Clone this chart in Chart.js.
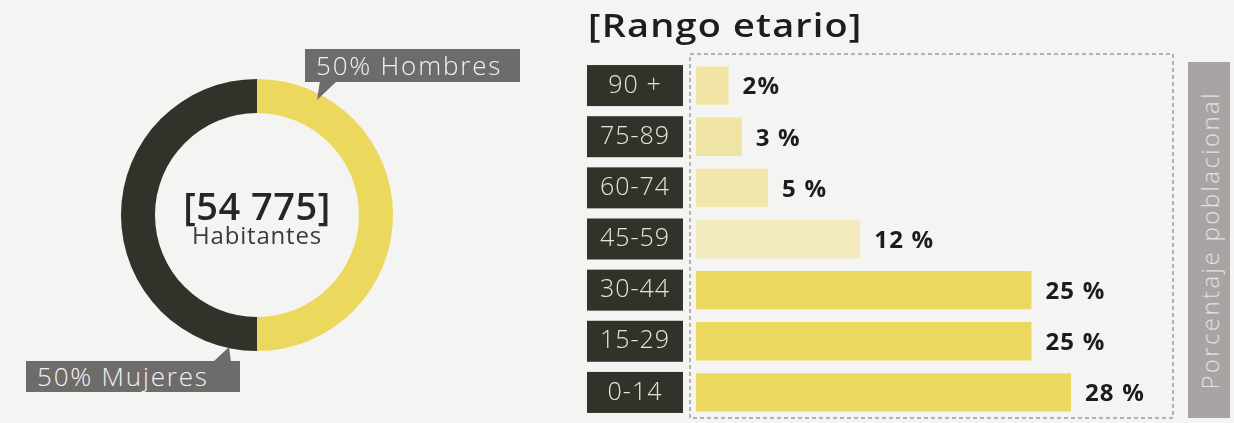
<!DOCTYPE html>
<html>
<head>
<meta charset="utf-8">
<script src="https://cdn.jsdelivr.net/npm/chart.js@4/dist/chart.umd.min.js"></script>
<style>
    body { margin: 0; width: 1234px; height: 423px; overflow: hidden; position: relative; background: #f4f4f3; font-family: "Open Sans", sans-serif; }
    .box { position: absolute; }
    #pieBox { left: 121px; top: 79px; width: 272px; height: 272px; }
    #barBox { left: 570px; top: 0; width: 664px; height: 423px; }
    .callout { position: absolute; background: #6e6b6b; color: #f2f2f2; font-size: 26px; font-weight: 300; letter-spacing: 1.8px; line-height: 33px; padding-left: 11px; box-sizing: border-box; white-space: nowrap; }
    .tip { position: absolute; background: #6e6b6b; }
    #title { position: absolute; left: 588px; top: 2px; font-size: 33px; font-weight: 600; letter-spacing: 1px; color: #1d1d1d; white-space: nowrap; transform: scaleX(1.15); transform-origin: left center; }
    #strip { position: absolute; left: 1188px; top: 62px; width: 42px; height: 356px; background: #a9a3a3; display: flex; align-items: center; justify-content: center; }
    #strip span { writing-mode: vertical-rl; transform: rotate(180deg); color: #e6e2e2; font-size: 24px; font-weight: 300; letter-spacing: 2.4px; white-space: nowrap; }
</style>
</head>
<body>
<div id="pieBox" class="box"><canvas id="pieChart"></canvas></div>
<div id="barBox" class="box"><canvas id="barChart"></canvas></div>

<div id="hombres" class="callout" style="left:305px;top:49px;width:215px;height:33px;"></div>
<div class="tip" style="left:316px;top:81px;width:22px;height:20px;clip-path:polygon(4px 0,21px 0,1px 19px);"></div>
<div id="mujeres" class="callout" style="left:26px;top:361px;width:214px;height:31px;line-height:31px;"></div>
<div class="tip" style="left:212px;top:347px;width:20px;height:15px;clip-path:polygon(1px 15px,19px 15px,17px 0);"></div>

<div id="title"></div>
<div id="strip"><span id="stripText"></span></div>

<script>
// Data
const sexLabels = ['50% Hombres', '50% Mujeres'];
const sexShares = [50, 50];
const totalPeople = '[54 775]';
const totalCaption = 'Habitantes';

const ageTitle = '[Rango etario]';
const axisTitle = 'Porcentaje poblacional';
const ageLabels = ['90 +', '75-89', '60-74', '45-59', '30-44', '15-29', '0-14'];
const ageShares = [2, 3, 5, 12, 25, 25, 28];
const shareText = ['2%', '3 %', '5 %', '12 %', '25 %', '25 %', '28 %'];

const dark = '#2f3329';
const yellow = '#ecd85c';
const barColors = ['#f0e4a4', '#f0e4a4', '#f1e6ab', '#f2e9bd', '#ecd85e', '#ecd85e', '#ecd85e'];

document.getElementById('hombres').textContent = sexLabels[0];
document.getElementById('mujeres').textContent = sexLabels[1];
document.getElementById('title').textContent = ageTitle;
document.getElementById('stripText').textContent = axisTitle;

const centerText = {
    id: 'centerText',
    afterDraw(chart) {
        const { left, right, top, bottom } = chart.chartArea;
        const cx = (left + right) / 2;
        const cy = (top + bottom) / 2;
        const ctx = chart.ctx;
        ctx.save();
        ctx.textAlign = 'center';
        ctx.textBaseline = 'middle';
        ctx.fillStyle = '#262626';
        ctx.font = '600 38px "Open Sans"';
        ctx.letterSpacing = '0.5px';
        ctx.fillText(totalPeople, cx, cy - 6);
        ctx.fillStyle = '#3a3a3a';
        ctx.font = '400 24px "Open Sans"';
        ctx.letterSpacing = '0.8px';
        ctx.fillText(totalCaption, cx, cy + 22);
        ctx.restore();
    }
};

new Chart(document.getElementById('pieChart'), {
    type: 'doughnut',
    data: {
        labels: sexLabels,
        datasets: [{
            data: sexShares,
            backgroundColor: [yellow, dark],
            borderWidth: 0
        }]
    },
    options: {
        responsive: true,
        maintainAspectRatio: false,
        animation: false,
        cutout: '75%',
        plugins: { legend: { display: false }, tooltip: { enabled: false } }
    },
    plugins: [centerText]
});

// dashed frame, dark category boxes and value labels
const barDecor = {
    id: 'barDecor',
    beforeDatasetsDraw(chart) {
        const { left, right, top, bottom } = chart.chartArea;
        const ctx = chart.ctx;
        ctx.save();
        ctx.strokeStyle = '#9c9c9c';
        ctx.lineWidth = 1.5;
        ctx.setLineDash([4, 3]);
        ctx.strokeRect(left, top - 6, right - left, bottom - top + 6);
        ctx.restore();
    },
    afterDatasetsDraw(chart) {
        const ctx = chart.ctx;
        const yScale = chart.scales.y;
        const left = chart.chartArea.left;
        const bars = chart.getDatasetMeta(0).data;
        ctx.save();
        ageLabels.forEach((lab, i) => {
            const y = yScale.getPixelForValue(i);
            ctx.fillStyle = dark;
            ctx.fillRect(left - 103, y - 20.5, 96, 41);
            ctx.fillStyle = '#e4e4df';
            ctx.font = '300 25px "Open Sans"';
            ctx.letterSpacing = '1px';
            ctx.textAlign = 'center';
            ctx.textBaseline = 'middle';
            ctx.fillText(lab, left - 55, y);

            const bar = bars[i];
            ctx.fillStyle = '#1c1c1c';
            ctx.font = 'bold 24px "Open Sans"';
            ctx.letterSpacing = '1.2px';
            ctx.textAlign = 'left';
            ctx.fillText(shareText[i], bar.x + 14, bar.y + 2);
        });
        ctx.restore();
    }
};

new Chart(document.getElementById('barChart'), {
    type: 'bar',
    data: {
        labels: ageLabels,
        datasets: [{
            data: ageShares,
            base: -0.47,
            backgroundColor: barColors,
            borderWidth: 0,
            barPercentage: 0.75,
            categoryPercentage: 1
        }]
    },
    options: {
        indexAxis: 'y',
        responsive: true,
        maintainAspectRatio: false,
        animation: false,
        layout: { padding: { left: 120, right: 61, top: 60, bottom: 5 } },
        scales: {
            x: { display: false, min: -0.93, max: 35.75 },
            y: { display: false }
        },
        plugins: { legend: { display: false }, tooltip: { enabled: false } }
    },
    plugins: [barDecor]
});
</script>
</body>
</html>
